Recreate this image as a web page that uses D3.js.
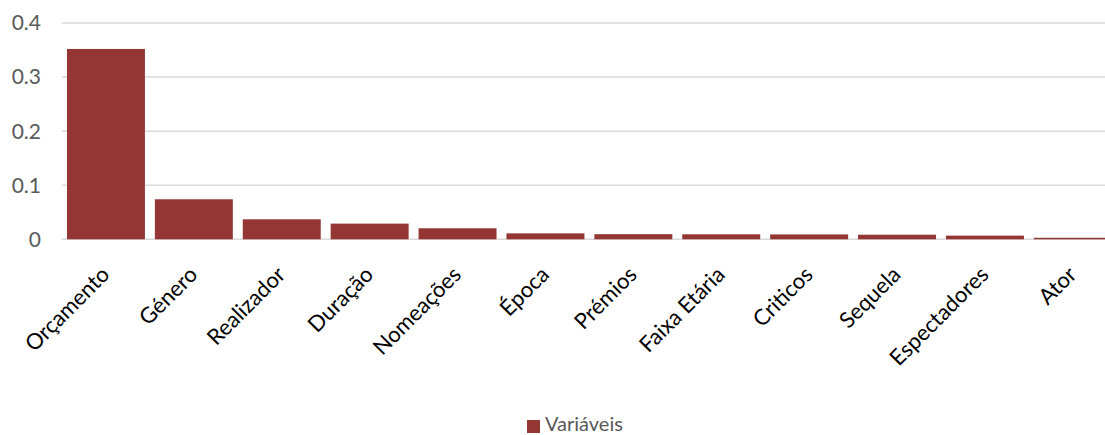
<!DOCTYPE html>
<html>
<head>
<meta charset="utf-8">
<script src="https://d3js.org/d3.v7.min.js"></script>
<style>
  body { margin: 0; background: #fff; }
  svg text { font-family: Lato, "Open Sans", sans-serif; fill: #595959; }
</style>
</head>
<body>
<svg width="1105" height="435"></svg>
<script>
const categories = ['Orçamento', 'Género', 'Realizador', 'Duração', 'Nomeações', 'Época',
                    'Prémios', 'Faixa Etária', 'Criticos', 'Sequela', 'Espectadores', 'Ator'];
const values = [0.352, 0.074, 0.037, 0.029, 0.0204, 0.011, 0.0095, 0.0093, 0.009, 0.0085, 0.0068, 0.0028];
const yTicks = [0, 0.1, 0.2, 0.3, 0.4];
const seriesName = 'Variáveis';

const svg = d3.select('svg');
const plotLeft = 62, plotRight = 1105, plotTop = 23, plotBottom = 239.3;
const step = 87.9;

var x = d3.scaleBand().domain(categories)
  .range([plotLeft, plotLeft + categories.length * step])
  .paddingInner(0.113).paddingOuter(0.0565);
var y = d3.scaleLinear().domain([0, 0.4]).range([plotBottom, plotTop]);

// gridlines
svg.append('g').selectAll('line').data(yTicks).enter().append('line')
  .attr('x1', plotLeft).attr('x2', plotRight)
  .attr('y1', d => y(d)).attr('y2', d => y(d))
  .attr('stroke', '#d9d9d9').attr('stroke-width', 1.5);

// y tick labels
svg.append('g').selectAll('text').data(yTicks).enter().append('text')
  .attr('x', 41).attr('y', d => y(d))
  .attr('dy', '0.35em')
  .attr('text-anchor', 'end')
  .style('font-size', '21px')
  .text(d => d3.format('~g')(d));

// bars
svg.append('g').selectAll('rect').data(values).enter().append('rect')
  .attr('x', (d, i) => x(categories[i]))
  .attr('width', x.bandwidth())
  .attr('y', d => y(d))
  .attr('height', d => y(0) - y(d))
  .attr('fill', '#943634');

// category labels, rotated
svg.append('g').selectAll('text').data(categories).enter().append('text')
  .attr('text-anchor', 'end')
  .attr('transform', d => 'translate(' + (x(d) + x.bandwidth() / 2 + 5) + ',276) rotate(-45)')
  .style('font-size', '22px')
  .style('fill', '#000')
  .text(d => d);

// legend
svg.append('rect').attr('x', 527).attr('y', 420).attr('width', 13).attr('height', 13).attr('fill', '#943634');
svg.append('text').attr('x', 545).attr('y', 431)
  .style('font-size', '20px').text(seriesName);
</script>
</body>
</html>
